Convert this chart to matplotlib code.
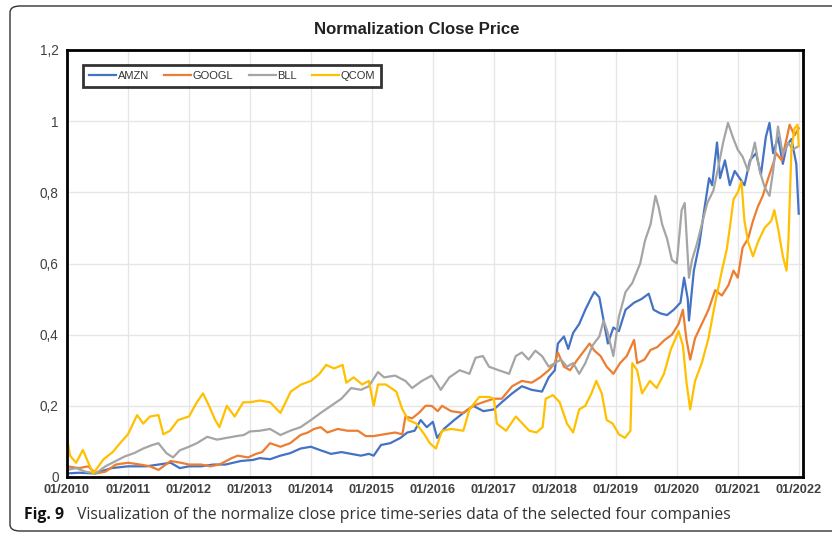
import matplotlib
matplotlib.use("Agg")
import matplotlib.pyplot as plt
from matplotlib.patches import FancyBboxPatch

# ---------------- data (fractional year, normalized close) ----------------
title = "Normalization Close Price"
series_names = ["AMZN", "GOOGL", "BLL", "QCOM"]
year_ticks = list(range(2010, 2023))
year_labels = [f"01/{y}" for y in year_ticks]
y_ticks = [0, 0.2, 0.4, 0.6, 0.8, 1.0, 1.2]
y_labels = ["0", "0,2", "0,4", "0,6", "0,8", "1", "1,2"]

amzn = [(2010.0, 0.01), (2010.2, 0.012), (2010.45, 0.01), (2010.73, 0.025), (2011.0, 0.03),
        (2011.3, 0.03), (2011.5, 0.035), (2011.7, 0.04), (2011.85, 0.025), (2012.0, 0.03),
        (2012.2, 0.03), (2012.4, 0.035), (2012.6, 0.035), (2012.85, 0.045), (2013.05, 0.048),
        (2013.16, 0.053), (2013.33, 0.05), (2013.5, 0.06), (2013.66, 0.067), (2013.83, 0.08),
        (2014.0, 0.085), (2014.16, 0.075), (2014.33, 0.065), (2014.5, 0.07), (2014.66, 0.065),
        (2014.82, 0.06), (2014.95, 0.065), (2015.03, 0.06), (2015.15, 0.09), (2015.3, 0.095),
        (2015.47, 0.11), (2015.58, 0.125), (2015.7, 0.13), (2015.8, 0.16), (2015.9, 0.14),
        (2016.0, 0.155), (2016.07, 0.11), (2016.18, 0.135), (2016.35, 0.16), (2016.5, 0.18),
        (2016.66, 0.2), (2016.83, 0.185), (2017.0, 0.19), (2017.13, 0.21), (2017.3, 0.235),
        (2017.46, 0.255), (2017.62, 0.245), (2017.79, 0.24), (2017.9, 0.28), (2018.0, 0.30),
        (2018.05, 0.375), (2018.15, 0.395), (2018.22, 0.36), (2018.3, 0.405), (2018.4, 0.43),
        (2018.5, 0.47), (2018.6, 0.505), (2018.65, 0.52), (2018.73, 0.505), (2018.8, 0.44),
        (2018.87, 0.375), (2018.96, 0.42), (2019.05, 0.41), (2019.16, 0.47), (2019.3, 0.49),
        (2019.42, 0.5), (2019.54, 0.515), (2019.62, 0.47), (2019.73, 0.46), (2019.84, 0.455),
        (2019.95, 0.47), (2020.06, 0.49), (2020.12, 0.56), (2020.18, 0.5), (2020.2, 0.44),
        (2020.28, 0.58), (2020.37, 0.655), (2020.45, 0.75), (2020.53, 0.84), (2020.58, 0.82),
        (2020.66, 0.94), (2020.71, 0.84), (2020.79, 0.89), (2020.87, 0.82), (2020.95, 0.86),
        (2021.03, 0.84), (2021.11, 0.82), (2021.2, 0.89), (2021.3, 0.91), (2021.38, 0.85),
        (2021.46, 0.955), (2021.52, 0.995), (2021.58, 0.91), (2021.66, 0.955), (2021.74, 0.88),
        (2021.8, 0.93), (2021.88, 0.95), (2021.96, 0.88), (2022.0, 0.74)]

googl = [(2010.0, 0.03), (2010.2, 0.025), (2010.35, 0.03), (2010.47, 0.01), (2010.63, 0.015),
         (2010.8, 0.035), (2011.0, 0.04), (2011.2, 0.035), (2011.36, 0.03), (2011.5, 0.02),
         (2011.7, 0.045), (2011.87, 0.04), (2012.0, 0.035), (2012.2, 0.035), (2012.35, 0.03),
         (2012.5, 0.035), (2012.7, 0.053), (2012.8, 0.06), (2012.97, 0.055), (2013.1, 0.065),
         (2013.2, 0.07), (2013.33, 0.095), (2013.5, 0.085), (2013.66, 0.095), (2013.83, 0.118),
         (2013.95, 0.125), (2014.05, 0.135), (2014.16, 0.14), (2014.27, 0.125), (2014.44, 0.135),
         (2014.6, 0.13), (2014.77, 0.13), (2014.9, 0.115), (2015.03, 0.115), (2015.2, 0.12),
         (2015.38, 0.125), (2015.5, 0.12), (2015.55, 0.17), (2015.66, 0.165), (2015.77, 0.18),
         (2015.88, 0.2), (2015.98, 0.2), (2016.08, 0.185), (2016.15, 0.2), (2016.3, 0.185),
         (2016.5, 0.18), (2016.66, 0.2), (2016.82, 0.21), (2017.0, 0.22), (2017.13, 0.22),
         (2017.3, 0.255), (2017.46, 0.27), (2017.62, 0.265), (2017.76, 0.28), (2017.9, 0.3),
         (2018.0, 0.32), (2018.05, 0.35), (2018.15, 0.31), (2018.25, 0.3), (2018.35, 0.325),
         (2018.46, 0.35), (2018.57, 0.375), (2018.65, 0.355), (2018.75, 0.34), (2018.85, 0.31),
         (2018.96, 0.29), (2019.07, 0.32), (2019.18, 0.34), (2019.3, 0.385), (2019.35, 0.32),
         (2019.47, 0.33), (2019.57, 0.357), (2019.68, 0.365), (2019.8, 0.385), (2019.92, 0.4),
         (2020.03, 0.43), (2020.1, 0.47), (2020.16, 0.385), (2020.22, 0.33), (2020.3, 0.39),
         (2020.41, 0.43), (2020.52, 0.47), (2020.63, 0.525), (2020.74, 0.51), (2020.85, 0.54),
         (2020.93, 0.58), (2021.0, 0.56), (2021.08, 0.645), (2021.17, 0.67), (2021.25, 0.72),
         (2021.33, 0.76), (2021.41, 0.79), (2021.5, 0.84), (2021.58, 0.88), (2021.63, 0.91),
         (2021.72, 0.89), (2021.8, 0.95), (2021.85, 0.99), (2021.93, 0.96), (2022.0, 0.98)]

bll = [(2010.0, 0.02), (2010.15, 0.025), (2010.3, 0.015), (2010.47, 0.01), (2010.63, 0.03),
       (2010.8, 0.045), (2010.95, 0.058), (2011.1, 0.067), (2011.25, 0.08), (2011.4, 0.09),
       (2011.5, 0.095), (2011.63, 0.067), (2011.74, 0.055), (2011.85, 0.075), (2012.0, 0.085),
       (2012.13, 0.095), (2012.3, 0.113), (2012.46, 0.105), (2012.62, 0.11), (2012.78, 0.115),
       (2012.9, 0.118), (2013.0, 0.128), (2013.16, 0.13), (2013.33, 0.135), (2013.5, 0.118),
       (2013.66, 0.13), (2013.83, 0.14), (2014.0, 0.16), (2014.16, 0.18), (2014.33, 0.2),
       (2014.5, 0.22), (2014.66, 0.25), (2014.82, 0.245), (2014.95, 0.255), (2015.1, 0.295),
       (2015.2, 0.28), (2015.38, 0.285), (2015.55, 0.27), (2015.66, 0.25), (2015.82, 0.27),
       (2015.98, 0.285), (2016.06, 0.265), (2016.13, 0.245), (2016.27, 0.28), (2016.44, 0.3),
       (2016.6, 0.29), (2016.7, 0.335), (2016.82, 0.34), (2016.92, 0.31), (2017.08, 0.3),
       (2017.25, 0.29), (2017.36, 0.34), (2017.46, 0.35), (2017.57, 0.33), (2017.68, 0.355),
       (2017.79, 0.34), (2017.9, 0.31), (2018.0, 0.32), (2018.1, 0.33), (2018.2, 0.31),
       (2018.3, 0.32), (2018.4, 0.29), (2018.5, 0.32), (2018.62, 0.37), (2018.73, 0.395),
       (2018.8, 0.44), (2018.86, 0.41), (2018.96, 0.34), (2019.05, 0.45), (2019.16, 0.52),
       (2019.27, 0.545), (2019.4, 0.6), (2019.48, 0.665), (2019.57, 0.71), (2019.65, 0.79),
       (2019.7, 0.76), (2019.76, 0.71), (2019.84, 0.67), (2019.92, 0.61), (2020.0, 0.6),
       (2020.08, 0.75), (2020.13, 0.77), (2020.2, 0.56), (2020.25, 0.61), (2020.33, 0.655),
       (2020.41, 0.71), (2020.5, 0.77), (2020.6, 0.805), (2020.68, 0.87), (2020.76, 0.94),
       (2020.84, 0.995), (2020.93, 0.95), (2021.0, 0.92), (2021.08, 0.9), (2021.17, 0.86),
       (2021.28, 0.94), (2021.36, 0.86), (2021.44, 0.815), (2021.52, 0.79), (2021.58, 0.86),
       (2021.66, 0.985), (2021.74, 0.905), (2021.83, 0.94), (2021.9, 0.92), (2022.0, 0.93)]

qcom = [(2010.0, 0.11), (2010.05, 0.06), (2010.15, 0.04), (2010.26, 0.076), (2010.35, 0.04),
        (2010.43, 0.01), (2010.6, 0.05), (2010.75, 0.07), (2010.87, 0.095), (2011.0, 0.12),
        (2011.15, 0.174), (2011.25, 0.15), (2011.36, 0.17), (2011.5, 0.174), (2011.58, 0.12),
        (2011.69, 0.13), (2011.82, 0.16), (2012.0, 0.17), (2012.13, 0.21), (2012.23, 0.235),
        (2012.33, 0.2), (2012.43, 0.16), (2012.5, 0.14), (2012.62, 0.2), (2012.75, 0.17),
        (2012.89, 0.21), (2013.0, 0.21), (2013.16, 0.215), (2013.33, 0.21), (2013.5, 0.18),
        (2013.67, 0.24), (2013.84, 0.26), (2014.0, 0.27), (2014.14, 0.29), (2014.25, 0.315),
        (2014.38, 0.305), (2014.52, 0.315), (2014.58, 0.265), (2014.7, 0.28), (2014.84, 0.26),
        (2014.95, 0.27), (2015.03, 0.2), (2015.1, 0.26), (2015.23, 0.26), (2015.4, 0.24),
        (2015.5, 0.19), (2015.6, 0.16), (2015.73, 0.15), (2015.86, 0.12), (2015.95, 0.095),
        (2016.05, 0.08), (2016.15, 0.13), (2016.3, 0.135), (2016.5, 0.13), (2016.6, 0.19),
        (2016.76, 0.225), (2016.92, 0.225), (2017.0, 0.22), (2017.05, 0.15), (2017.2, 0.13),
        (2017.36, 0.17), (2017.47, 0.15), (2017.58, 0.13), (2017.7, 0.125), (2017.8, 0.14),
        (2017.85, 0.22), (2017.97, 0.23), (2018.08, 0.21), (2018.2, 0.15), (2018.3, 0.125),
        (2018.4, 0.19), (2018.5, 0.2), (2018.6, 0.235), (2018.68, 0.27), (2018.77, 0.235),
        (2018.85, 0.16), (2018.95, 0.15), (2019.05, 0.12), (2019.15, 0.11), (2019.24, 0.13),
        (2019.27, 0.32), (2019.35, 0.3), (2019.43, 0.235), (2019.56, 0.27), (2019.67, 0.25),
        (2019.79, 0.29), (2019.9, 0.357), (2020.03, 0.41), (2020.1, 0.37), (2020.16, 0.265),
        (2020.22, 0.19), (2020.3, 0.27), (2020.41, 0.32), (2020.52, 0.39), (2020.63, 0.49),
        (2020.74, 0.58), (2020.82, 0.64), (2020.87, 0.70), (2020.93, 0.78), (2021.0, 0.80),
        (2021.06, 0.83), (2021.11, 0.72), (2021.17, 0.66), (2021.25, 0.62), (2021.33, 0.66),
        (2021.44, 0.70), (2021.55, 0.72), (2021.6, 0.75), (2021.66, 0.70), (2021.74, 0.62),
        (2021.8, 0.58), (2021.83, 0.66), (2021.88, 0.92), (2021.93, 0.98), (2021.98, 0.99),
        (2022.0, 0.93)]

colors = ["#4472C4", "#ED7D31", "#A5A5A5", "#FFC000"]

# ---------------- figure ----------------
W, H = 832, 533
fig = plt.figure(figsize=(W / 100, H / 100), dpi=100)
fig.patch.set_facecolor("white")

# outer rounded frame
frame = FancyBboxPatch((10 / W, 2 / H), (W + 20) / W, (H - 8) / H,
                       boxstyle="round,pad=0,rounding_size=0.012",
                       transform=fig.transFigure, fill=False,
                       edgecolor="#333333", linewidth=1.0, clip_on=False)
fig.patches.append(frame)

ax = fig.add_axes([67 / W, 1 - 477 / H, (803 - 67) / W, (477 - 50) / H])

for data, name, c in zip([amzn, googl, bll, qcom], series_names, colors):
    t, v = zip(*data)
    ax.plot(t, v, color=c, lw=1.6, label=name, solid_joinstyle="round")

ax.set_xlim(2010, 2022.07)
ax.set_ylim(0, 1.2)
ax.set_xticks(year_ticks)
ax.set_xticklabels(year_labels, fontsize=9.2, fontweight="bold", color="#404040",
                   family="Liberation Sans")
ax.set_yticks(y_ticks)
ax.set_yticklabels(y_labels, fontsize=9.8, color="#404040", family="Liberation Sans")
ax.tick_params(length=0, pad=6)
ax.tick_params(axis="x", pad=5)
ax.grid(True, color="#e6e6e6", lw=1.0)
ax.set_axisbelow(True)
for s in ax.spines.values():
    s.set_linewidth(2.0)
    s.set_color("black")

leg = ax.legend(loc="upper left", bbox_to_anchor=(0.022, 0.966), ncol=4,
                frameon=True, fancybox=False, borderaxespad=0,
                prop={"family": "Liberation Sans", "size": 8},
                handlelength=2.4, handletextpad=0.15, columnspacing=1.4,
                borderpad=0.55)
leg.get_frame().set_edgecolor("black")
leg.get_frame().set_linewidth(2.0)
for txt in leg.get_texts():
    txt.set_color("#333333")

fig.text(417 / W, 1 - 30 / H, title, ha="center", va="center",
         fontsize=12.1, fontweight="bold", color="#222222", family="Liberation Sans")

fig.text(24 / W, 1 - 515 / H, "Fig. 9", ha="left", va="center", fontsize=11.3,
         fontweight="bold", color="#111111", family="Open Sans")
fig.text(77 / W, 1 - 515 / H,
         "Visualization of the normalize close price time-series data of the selected four companies",
         ha="left", va="center", fontsize=11.3, color="#333333", family="Open Sans")

fig.savefig("out.png", dpi=100)
